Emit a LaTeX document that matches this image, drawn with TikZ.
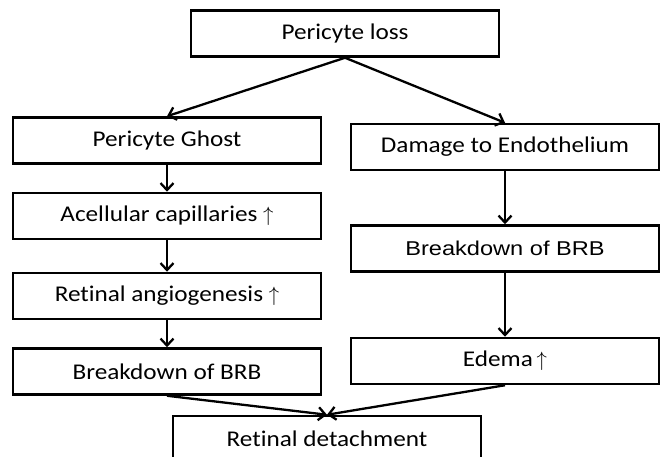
\documentclass[tikz,border=0pt]{standalone}
\usepackage{fontspec}
\setmainfont{Carlito}[FakeStretch=1.12, Ligatures=NoCommon]
\newfontfamily\arialfont{Liberation Sans}[FakeStretch=1.18]
\usetikzlibrary{arrows.meta}

\begin{document}
\begin{tikzpicture}[x=1pt, y=-1pt,
    stepbox/.style={draw, line width=2.5pt, minimum width=308pt,
      minimum height=46pt, inner sep=0pt, font=\fontsize{22.5}{26}\selectfont},
    arr/.style={line width=2.3pt, -{Straight Barb[length=7pt,width=13pt]}}]
  \useasboundingbox (0,0) rectangle (661,457);
  % top
  \node[stepbox] (loss) at (345,33.5) {Pericyte loss};
  % left column
  \node[stepbox] (ghost) at (167,140.5) {Pericyte Ghost};
  \node[stepbox] (acell) at (167,216) {Acellular capillaries $\uparrow$};
  \node[stepbox] (angio) at (167,296) {Retinal angiogenesis $\uparrow$};
  \node[stepbox] (brbL) at (167,371.5) {Breakdown of BRB};
  % right column
  \node[stepbox] (damage) at (505,147) {Damage to Endothelium};
  \node[stepbox, font=\arialfont\fontsize{20}{24}\selectfont] (brbR) at (505,248.5) {Breakdown of BRB};
  \node[stepbox] (edema) at (505,361) {Edema\,$\uparrow$};
  % bottom
  \node[stepbox] (detach) at (327,439) {Retinal detachment};

  \draw[arr] (loss.south) -- (ghost.north);
  \draw[arr] (loss.south) -- (damage.north);
  \draw[arr] (ghost) -- (acell);
  \draw[arr] (acell) -- (angio);
  \draw[arr] (angio) -- (brbL);
  \draw[arr] (damage) -- (brbR);
  \draw[arr] (brbR) -- (edema);
  \draw[arr] (brbL.south) -- (detach.north);
  \draw[arr] (edema.south) -- (detach.north);
\end{tikzpicture}
\end{document}
